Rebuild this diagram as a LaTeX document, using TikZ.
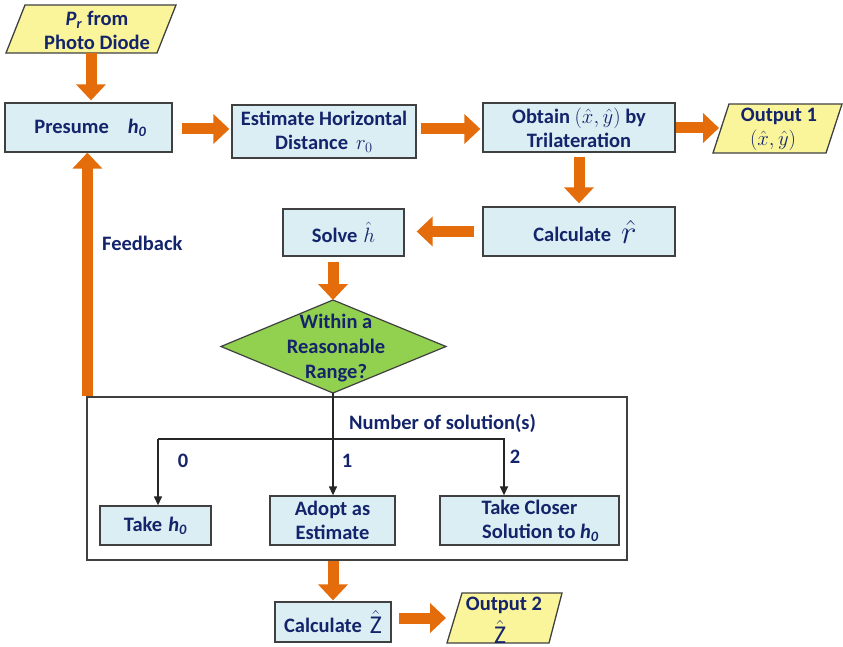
\documentclass[tikz,border=0pt]{standalone}
\usepackage{fontspec}
\setmainfont{Carlito}
\usetikzlibrary{arrows.meta,calc}
\definecolor{boxfill}{HTML}{DBEEF4}
\definecolor{boxline}{HTML}{404040}
\definecolor{orng}{HTML}{E46C0A}
\definecolor{ylw}{HTML}{FAF59B}
\definecolor{grn}{HTML}{92D050}
\definecolor{txt}{HTML}{14246B}
\tikzset{
  box/.style={draw=boxline, line width=1.3pt, fill=boxfill, inner sep=0pt, align=center},
  para/.style={draw=boxline, line width=1.3pt, fill=ylw, line join=miter},
  lbl/.style={inner sep=0pt, align=center},
  fat/.style={draw=orng, line width=11pt, -{Triangle[width=29pt,length=16pt]}},
  thin/.style={draw=black!85, line width=1.3pt, line join=miter},
  arr/.style={thin, -{Triangle[width=8pt,length=9pt]}}
}
\newcommand{\hz}{\textit{h}\textsubscript{\textit{0}}}
\begin{document}
\begin{tikzpicture}[x=1pt,y=-1pt, font=\fontsize{20.5}{24}\selectfont\bfseries, text=txt]
\useasboundingbox (0,0) rectangle (843,647);

% input parallelogram
\draw[para] (25,5) -- (176,5) -- (157,53) -- (6,53) -- cycle;
\node[lbl] (inp) at (97,30) {\textit{P}\textsubscript{\textit{r}} from\\Photo Diode};
\coordinate (inpb) at (91,53);

% boxes
\node[box, minimum width=167pt, minimum height=49pt] (pres) at (88.5,127.5) {\hspace{4pt}Presume\hspace{19pt}\hz};
\node[box, minimum width=184pt, minimum height=53pt] (est) at (324,131.5) {Estimate Horizontal\\Distance\hspace{8pt}$r_0$};
\node[box, minimum width=192pt, minimum height=49pt] (obt) at (579,127.5) {Obtain $(\hat{x},\hat{y})$ by\\Trilateration};
\node[box, minimum width=192pt, minimum height=49pt] (calr) at (579,231.5) {\hspace{12pt}Calculate\hspace{10pt}\raisebox{-2pt}{\scalebox{1.6}{$\hat{r}$}}};
\node[box, minimum width=121pt, minimum height=47pt] (solve) at (343.5,232.5) {Solve\hspace{6pt}$\hat{h}$};

% output 1
\draw[para] (729,104) -- (842,104) -- (826,153) -- (713,153) -- cycle;
\node[lbl] (out1) at (779,129) {Output 1\\\hspace*{-12pt}$(\hat{x},\hat{y})$};
\coordinate (out1in) at (719,128);

% diamond
\coordinate (dtop) at (333,300);
\coordinate (dright) at (446,346.5);
\coordinate (dbot) at (333,393);
\coordinate (dleft) at (221,346.5);
\draw[draw=boxline, line width=1.2pt, fill=grn, line join=miter] (dtop) -- (dright) -- (dbot) -- (dleft) -- cycle;
\node[lbl, font=\fontsize{20.5}{25}\selectfont\bfseries] (dia) at (336,348) {Within a\\Reasonable\\Range?};

% big frame
\node[draw=black!75, line width=1.2pt, minimum width=540pt, minimum height=163pt, inner sep=0pt] (frame) at (357,478.5) {};
\coordinate (fbb) at ($(frame.north west)+(1,0)$);

% inner boxes
\node[box, minimum width=111pt, minimum height=39pt] (takeh) at (155.5,525.5) {Take\hspace{6pt}\hz};
\node[box, minimum width=125pt, minimum height=49pt] (adopt) at (332.5,520.5) {Adopt as\\Estimate};
\node[box, minimum width=179pt, minimum height=49pt] (closer) at (529.5,520.5) {Take Closer\\\hspace*{22pt}Solution to \hz};

\node[lbl, anchor=west] (nsol) at (349,423) {Number of solution(s)};
\node[lbl] (n0) at (183,461) {0};
\node[lbl] (n1) at (347,461) {1};
\node[lbl] (n2) at (515,457) {2};
\node[lbl, anchor=west] (fb) at (102,243) {Feedback};

% bottom
\node[box, minimum width=116pt, minimum height=40pt] (calz) at (333,622) {Calculate\hspace{8pt}\raisebox{-1pt}{\scalebox{1.25}{$\hat{\mathrm{Z}}$}}};
\draw[para] (462,593) -- (562,593) -- (549,643) -- (447,643) -- cycle;
\node[lbl, anchor=south] (out2) at (504,614) {Output 2};
\node[lbl, anchor=north] (out2z) at (500,620) {\scalebox{1.25}{$\hat{\mathrm{Z}}$}};
\coordinate (out2in) at (446,618);

% orange arrows
\draw[fat, shorten >=2pt] (inpb) -- (inpb |- pres.north);
\draw[fat] ([xshift=9pt,yshift=-1.5pt]pres.east) -- ([yshift=-1.5pt,xshift=-2pt]pres.east -| est.west);
\draw[fat] ([xshift=4pt,yshift=-1.5pt]pres.east -| est.east) -- ([yshift=-1.5pt,xshift=-2pt]pres.east -| obt.west);
\draw[fat] (obt.east |- out1in) -- (out1in);
\draw[fat, shorten <=4pt, shorten >=3pt] (obt.south) -- (calr.north);
\draw[fat, shorten <=8pt, shorten >=12pt] (calr.west) -- (calr.west -| solve.east);
\draw[fat, shorten <=5pt] (dtop |- solve.south) -- (dtop);
\draw[fat] (fbb) -- (fbb |- pres.south);
\draw[fat, shorten >=1pt] (calz.north |- frame.south) -- (calz.north);
\draw[fat] ($(calz.east)+(7,-4)$) -- (out2in);

% thin connectors
\coordinate (bl) at (158,439);
\coordinate (br) at (504,439);
\draw[arr] (dbot) -- (dbot |- adopt.north);
\draw[arr] (bl) -- (bl |- takeh.north);
\draw[arr] (bl) -- (br) -- (br |- closer.north);
\end{tikzpicture}
\end{document}
